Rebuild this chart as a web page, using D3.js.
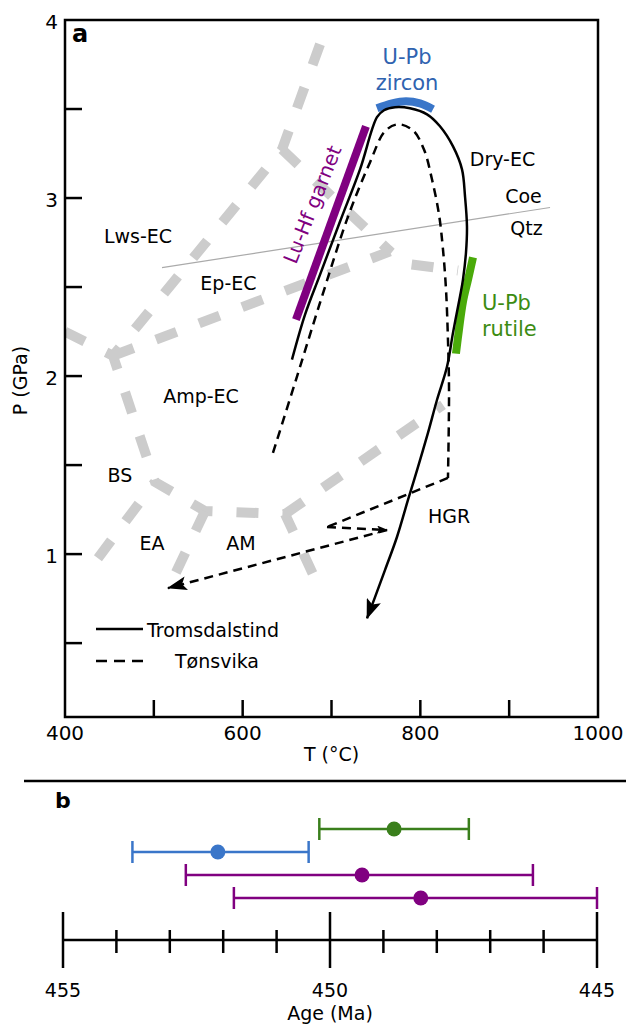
<!DOCTYPE html>
<html><head><meta charset="utf-8">
<script src="https://cdn.jsdelivr.net/npm/d3@7"></script>
<style>
body{margin:0;background:#fff}
svg{display:block}
text{font-family:"DejaVu Sans",sans-serif}
</style>
</head><body>
<svg id="c" width="626" height="1026"></svg>
<script>
// ---------- DATA (panel a) ----------
const tempTicks = [500, 600, 700, 800, 900];
const tempLabels = [400, 600, 800, 1000];
const presTicks = [0.5, 1, 1.5, 2, 2.5, 3, 3.5];
const presLabels = [1, 2, 3, 4];

// Tromsdalstind P-T path (solid)
const tromsT = [655.5,670.2,687.1,709.6,732.1,751.2,759.1,771.5,788.4,807.5,822.1,836.8,846.9,850.3,852.5,851.4,848.0,844.6,836.8,830.0,818.8,808.6,797.4,786.1,773.7,760.2,749.0,740.0];
const tromsP = [2.092,2.345,2.570,2.868,3.161,3.454,3.493,3.510,3.504,3.470,3.403,3.290,3.161,3.009,2.840,2.694,2.542,2.446,2.244,2.052,1.867,1.681,1.490,1.304,1.096,0.910,0.758,0.640];

// Tønsvika P-T path (dashed)
const tonsLoopT = [634.1,660.0,687.1,718.6,743.3,760.2,774.9,791.7,804.1,813.1,821.0,825.5,828.9,831.1,832.3,831.1];
const tonsLoopP = [1.568,1.979,2.412,2.896,3.200,3.375,3.414,3.380,3.273,3.105,2.908,2.711,2.486,2.204,1.923,1.428];
const tonsBackT = [831.1, 694.9];
const tonsBackP = [1.428, 1.152];
const tonsHookT = [694.9, 762.5];
const tonsHookP = [1.152, 1.135];
const tonsExitT = [762.5, 515.9];
const tonsExitP = [1.135, 0.809];

// Geochronology constraints on the path
const garnetT = [660.0, 738.8];
const garnetP = [2.317, 3.403];
const zirconT = [751.2, 768.1, 783.9, 799.6, 814.3];
const zirconP = [3.504, 3.532, 3.544, 3.532, 3.499];
const rutileT = [859.3, 853.7, 848.0, 843.5, 840.1];
const rutileP = [2.666, 2.542, 2.418, 2.261, 2.126];

// Coesite / quartz reaction
const coeQtzT = [509.2, 946.0];
const coeQtzP = [2.609, 2.947];

// Facies boundaries (grey dashed)
const lwsEpT = [687.1, 644.3, 454.0];
const lwsEpP = [3.864, 3.273, 2.114];
const bsAmpT = [400, 454.0, 501.3, 557.6, 647.7, 684.8];
const bsAmpP = [2.249, 2.114, 1.405, 1.242, 1.225, 0.826];
const eaBsT = [437.1, 501.3];
const eaBsP = [0.977, 1.405];
const eaAmT = [557.6, 518.2];
const eaAmP = [1.242, 0.826];
const ampHgrT = [647.7, 825.5];
const ampHgrP = [1.225, 1.838];
const epAmpT = [454.0, 765.9, 782.7, 842.4];
const epAmpP = [2.114, 2.700, 2.632, 2.593];
const epDryT = [644.3, 765.9];
const epDryP = [3.273, 2.700];

// Field labels
const fieldNames = ["Lws-EC","Ep-EC","Dry-EC","Coe","Qtz","Amp-EC","BS","EA","AM","HGR"];
const fieldT = [482.2, 584.0, 892.5, 916.1, 919.5, 553.1, 461.9, 497.9, 598.1, 832.3];
const fieldP = [2.750, 2.486, 3.178, 2.970, 2.795, 1.850, 1.405, 1.023, 1.023, 1.174];

// ---------- DATA (panel b) ----------
const methods = ["U-Pb rutile", "U-Pb zircon", "Lu-Hf garnet", "Lu-Hf garnet"];
const ages = [448.8, 452.1, 449.4, 448.3];
const ageOld = [450.2, 453.7, 452.7, 451.8];
const ageYoung = [447.4, 450.4, 446.2, 445.0];
const ageMajor = [455, 450, 445];
const ageMinor = [454, 453, 452, 451, 449, 448, 447, 446];

// ---------- STYLE ----------
const GREY = "#cccccc";
const PURPLE = "#800080";
const BLUE = "#3a76c9", BLUE_TXT = "#2f63b0";
const GREEN = "#4aaa0a", GREEN_TXT = "#3c8c12", GREEN_B = "#3a7f1c";
const methodColor = {"U-Pb rutile": GREEN_B, "U-Pb zircon": BLUE, "Lu-Hf garnet": PURPLE};

const svg = d3.select("#c");
const x = d3.scaleLinear().domain([400, 1000]).range([65, 598]);
const y = d3.scaleLinear().domain([0.085, 4]).range([717, 20]);
const pts = (T, P) => T.map((t, i) => [x(t), y(P[i])]);
const lin = d3.line();
const smooth = d3.line().curve(d3.curveCatmullRom.alpha(0.5));

const defs = svg.append("defs");
function marker(id, w, h) {
  defs.append("marker").attr("id", id)
    .attr("viewBox", `0 0 ${w} ${h}`).attr("refX", w - 1).attr("refY", h / 2)
    .attr("markerWidth", w).attr("markerHeight", h)
    .attr("markerUnits", "userSpaceOnUse").attr("orient", "auto")
    .append("path").attr("d", `M0,0 L${w},${h/2} L0,${h} L${w*0.22},${h/2} Z`).attr("fill", "#000");
}
marker("arrowBig", 20, 15);
marker("arrowDash", 20, 14);
marker("arrowSmall", 11, 8);

// clip to plot frame
defs.append("clipPath").attr("id", "frame").append("rect")
  .attr("x", x(400)).attr("y", y(4)).attr("width", x(1000) - x(400)).attr("height", y(0.085) - y(4));

const gA = svg.append("g").attr("clip-path", "url(#frame)");

// facies boundaries
[[lwsEpT, lwsEpP], [bsAmpT, bsAmpP], [eaBsT, eaBsP], [eaAmT, eaAmP], [ampHgrT, ampHgrP], [epAmpT, epAmpP], [epDryT, epDryP]]
  .forEach(([T, P]) => {
    gA.append("path").attr("d", lin(pts(T, P))).attr("fill", "none")
      .attr("stroke", GREY).attr("stroke-width", 10).attr("stroke-dasharray", "22,24");
  });

// Coe/Qtz line
gA.append("path").attr("d", lin(pts(coeQtzT, coeQtzP))).attr("stroke", "#aaaaaa").attr("stroke-width", 1.2).attr("fill", "none");

// geochronology bars
gA.append("path").attr("d", lin(pts(garnetT, garnetP))).attr("stroke", PURPLE).attr("stroke-width", 8).attr("fill", "none");
gA.append("path").attr("d", smooth(pts(zirconT, zirconP))).attr("stroke", BLUE).attr("stroke-width", 8).attr("fill", "none");
gA.append("path").attr("d", smooth(pts(rutileT, rutileP))).attr("stroke", GREEN).attr("stroke-width", 8).attr("fill", "none");

// P-T paths
gA.append("path").attr("d", smooth(pts(tromsT, tromsP))).attr("fill", "none")
  .attr("stroke", "#000").attr("stroke-width", 2.5).attr("marker-end", "url(#arrowBig)");
gA.append("path").attr("d", smooth(pts(tonsLoopT, tonsLoopP))).attr("fill", "none")
  .attr("stroke", "#000").attr("stroke-width", 2.5).attr("stroke-dasharray", "9,6");
gA.append("path").attr("d", lin(pts(tonsBackT, tonsBackP))).attr("fill", "none")
  .attr("stroke", "#000").attr("stroke-width", 2.5).attr("stroke-dasharray", "9,6");
gA.append("path").attr("d", lin(pts(tonsHookT, tonsHookP))).attr("fill", "none")
  .attr("stroke", "#000").attr("stroke-width", 2.5).attr("stroke-dasharray", "9,6").attr("marker-end", "url(#arrowSmall)");
gA.append("path").attr("d", lin(pts(tonsExitT, tonsExitP))).attr("fill", "none")
  .attr("stroke", "#000").attr("stroke-width", 2.5).attr("stroke-dasharray", "9,6").attr("marker-end", "url(#arrowDash)");

// field labels
fieldNames.forEach((n, i) => {
  svg.append("text").attr("x", x(fieldT[i])).attr("y", y(fieldP[i]))
    .attr("text-anchor", "middle").attr("font-size", 19).attr("fill", "#000").text(n);
});

// geochronology labels
svg.append("text").attr("transform", `translate(${x(685.9)},${y(2.950)}) rotate(-68.4)`)
  .attr("text-anchor", "middle").attr("font-size", 20).attr("fill", PURPLE).text("Lu-Hf garnet");
svg.append("text").attr("x", x(785)).attr("y", y(3.751)).attr("text-anchor", "middle").attr("font-size", 21).attr("fill", BLUE_TXT).text("U-Pb");
svg.append("text").attr("x", x(785)).attr("y", y(3.606)).attr("text-anchor", "middle").attr("font-size", 21).attr("fill", BLUE_TXT).text("zircon");
svg.append("text").attr("x", x(869.4)).attr("y", y(2.373)).attr("font-size", 21).attr("fill", GREEN_TXT).text("U-Pb");
svg.append("text").attr("x", x(869.4)).attr("y", y(2.227)).attr("font-size", 21).attr("fill", GREEN_TXT).text("rutile");

// legend
svg.append("line").attr("x1", 96).attr("x2", 143).attr("y1", 629).attr("y2", 629).attr("stroke", "#000").attr("stroke-width", 2.5);
svg.append("text").attr("x", 147).attr("y", 637).attr("font-size", 19).text("Tromsdalstind");
svg.append("line").attr("x1", 96).attr("x2", 143).attr("y1", 661).attr("y2", 661).attr("stroke", "#000").attr("stroke-width", 2.5).attr("stroke-dasharray", "11,7");
svg.append("text").attr("x", 175).attr("y", 668).attr("font-size", 19).text("Tønsvika");

// axes ticks (inward)
const tk = svg.append("g").attr("stroke", "#000").attr("stroke-width", 2.5);
tempTicks.forEach(t => tk.append("line").attr("x1", x(t)).attr("x2", x(t)).attr("y1", y(0.085)).attr("y2", y(0.085) - 17));
presTicks.forEach(p => tk.append("line").attr("x1", x(400)).attr("x2", x(400) + 17).attr("y1", y(p)).attr("y2", y(p)));
tempLabels.forEach(t => svg.append("text").attr("x", x(t)).attr("y", 740).attr("text-anchor", "middle").attr("font-size", 20).text(t));
presLabels.forEach(p => svg.append("text").attr("x", 58).attr("y", y(p) + 8.5).attr("text-anchor", "end").attr("font-size", 20).text(p));
svg.append("text").attr("x", (x(400) + x(1000)) / 2).attr("y", 761).attr("text-anchor", "middle").attr("font-size", 19).text("T (°C)");
svg.append("text").attr("transform", `translate(27,${(y(4) + y(0.085)) / 2 + 12}) rotate(-90)`).attr("text-anchor", "middle").attr("font-size", 19).text("P (GPa)");

// frame
svg.append("rect").attr("x", x(400)).attr("y", y(4)).attr("width", x(1000) - x(400)).attr("height", y(0.085) - y(4))
  .attr("fill", "none").attr("stroke", "#000").attr("stroke-width", 2.5);
svg.append("text").attr("x", 72).attr("y", 42).attr("font-size", 24).attr("font-weight", "bold").text("a");

// ---------- panel b ----------
svg.append("line").attr("x1", 24).attr("x2", 626).attr("y1", 781).attr("y2", 781).attr("stroke", "#000").attr("stroke-width", 2.5);
svg.append("text").attr("x", 55).attr("y", 808).attr("font-size", 22).attr("font-weight", "bold").text("b");

const bx = d3.scaleLinear().domain([455, 445]).range([63, 597]);
const row = d3.scalePoint().domain(d3.range(methods.length)).range([829, 898]);
const AXY = 940;

methods.forEach((m, i) => {
  const c = methodColor[m], yy = row(i);
  const g = svg.append("g").attr("stroke", c).attr("stroke-width", 2.5);
  g.append("line").attr("x1", bx(ageOld[i])).attr("x2", bx(ageYoung[i])).attr("y1", yy).attr("y2", yy);
  g.append("line").attr("x1", bx(ageOld[i])).attr("x2", bx(ageOld[i])).attr("y1", yy - 11).attr("y2", yy + 11);
  g.append("line").attr("x1", bx(ageYoung[i])).attr("x2", bx(ageYoung[i])).attr("y1", yy - 11).attr("y2", yy + 11);
  svg.append("circle").attr("cx", bx(ages[i])).attr("cy", yy).attr("r", 7.5).attr("fill", c);
});

const bt = svg.append("g").attr("stroke", "#000").attr("stroke-width", 2.5);
bt.append("line").attr("x1", bx(455)).attr("x2", bx(445)).attr("y1", AXY).attr("y2", AXY);
ageMajor.forEach(a => bt.append("line").attr("x1", bx(a)).attr("x2", bx(a)).attr("y1", AXY - 28).attr("y2", AXY + 28));
ageMinor.forEach(a => bt.append("line").attr("x1", bx(a)).attr("x2", bx(a)).attr("y1", AXY - 10).attr("y2", AXY + 13));
ageMajor.forEach(a => svg.append("text").attr("x", bx(a)).attr("y", 997).attr("text-anchor", "middle").attr("font-size", 19).text(a));
svg.append("text").attr("x", bx(450)).attr("y", 1020).attr("text-anchor", "middle").attr("font-size", 19).text("Age (Ma)");
</script>
</body></html>
